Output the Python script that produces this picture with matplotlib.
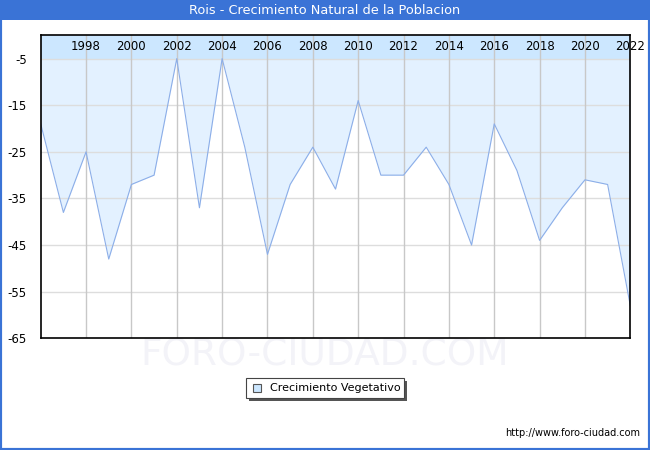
import matplotlib
matplotlib.use('Agg')
import matplotlib.pyplot as plt
from matplotlib.patches import Rectangle

# data
years = list(range(1996, 2023))
values = [-19, -38, -25, -48, -32, -30, -5, -37, -5, -24, -47, -32, -24, -33,
          -14, -30, -30, -24, -32, -45, -19, -29, -44, -37, -31, -32, -58]
year_labels = list(range(1998, 2023, 2))
y_ticks = [-5, -15, -25, -35, -45, -55, -65]

title = 'Rois - Crecimiento Natural de la Poblacion'
series_name = 'Crecimiento Vegetativo'
url = 'http://www.foro-ciudad.com'

blue = '#3a73d6'
fill_col = '#e3f1ff'
band_col = '#cce7ff'
line_col = '#8caee8'

fig = plt.figure(figsize=(6.5, 4.5), dpi=100)
fig.patch.set_facecolor('white')

# blue frame and title bar
fig.patches.append(Rectangle((0, 0), 1, 1, transform=fig.transFigure, fill=False,
                             edgecolor=blue, linewidth=3, zorder=0))
fig.patches.append(Rectangle((0, 1 - 20 / 450), 1, 20 / 450, transform=fig.transFigure,
                             facecolor=blue, edgecolor='none', zorder=1))
fig.text(0.5, 1 - 11 / 450, title, color='white', ha='center', va='center', fontsize=9.3)

ax = fig.add_axes([40.7 / 650, 1 - 338.3 / 450, 589.6 / 650, 303 / 450])
ax.set_zorder(2)
ax.set_xlim(1996, 2022)
ax.set_ylim(-65, 0)

# header band holding the year labels
ax.axhspan(-5, 0, color=band_col, zorder=1, linewidth=0)
ax.fill_between(years, values, -5, color=fill_col, zorder=1, linewidth=0)
ax.plot(years, values, color=line_col, linewidth=0.8, zorder=3)

for y in y_ticks[1:-1]:
    ax.axhline(y, color='#dddddd', linewidth=1, zorder=2)
ax.axhline(-5, color='#dddddd', linewidth=1, zorder=2)
for yr in year_labels[:-1]:
    ax.axvline(yr, color='#c8c8c8', linewidth=1, zorder=2)

ax.set_yticks(y_ticks)
ax.set_yticklabels([str(v) for v in y_ticks], fontsize=8.5)
ax.tick_params(axis='y', length=0, pad=10)
ax.set_xticks([])
for yr in year_labels:
    ax.text(yr, -2.5, str(yr), ha='center', va='center', fontsize=8.5, zorder=4)

for s in ax.spines.values():
    s.set_linewidth(1.2)
    s.set_color('black')
    s.set_zorder(5)

# watermark
fig.text(0.5, 1 - 356 / 450, 'FORO-CIUDAD.COM', color='#f3f3f8', ha='center', va='center',
         fontsize=27, zorder=-1)

# legend box with shadow
lx, ly, lw, lh = 246 / 650, 1 - 398 / 450, 158 / 650, 20 / 450
fig.patches.append(Rectangle((lx + 3 / 650, ly - 3 / 450), lw, lh, transform=fig.transFigure,
                             facecolor='#555555', edgecolor='none', zorder=2))
fig.patches.append(Rectangle((lx, ly), lw, lh, transform=fig.transFigure,
                             facecolor='white', edgecolor='#444444', linewidth=0.8, zorder=3))
fig.patches.append(Rectangle((253 / 650, 1 - 392 / 450), 8 / 650, 8 / 450,
                             transform=fig.transFigure, facecolor=band_col,
                             edgecolor='#555555', linewidth=0.8, zorder=4))
fig.text(270 / 650, 1 - 388 / 450, series_name, fontsize=8, va='center', zorder=5)

fig.text(640 / 650, 1 - 433 / 450, url, fontsize=7, ha='right', va='center')

fig.savefig('out.png', dpi=100)
